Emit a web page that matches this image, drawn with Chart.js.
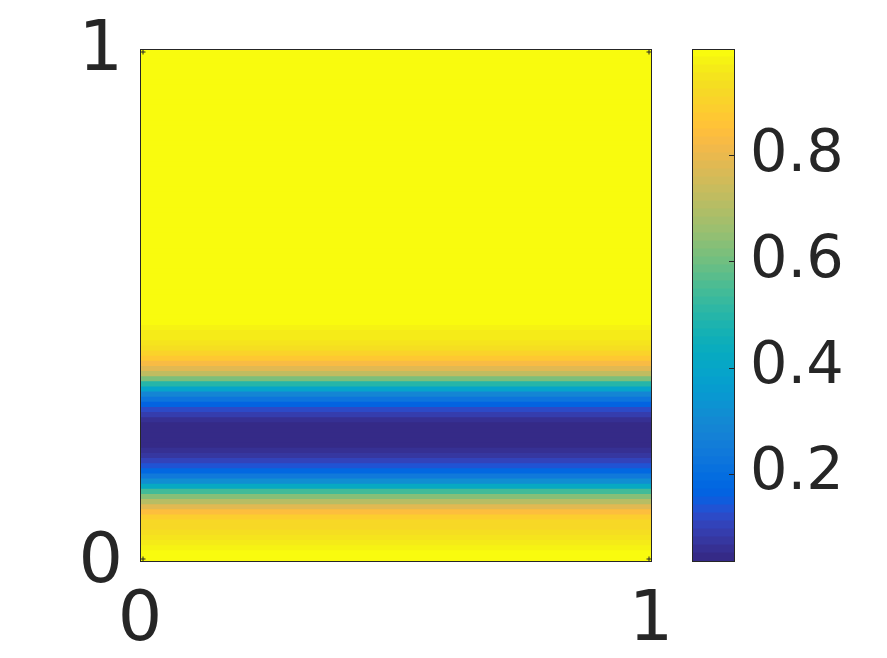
<!DOCTYPE html>
<html>
<head>
<meta charset="utf-8">
<script src="https://cdn.jsdelivr.net/npm/chart.js@4.4.1/dist/chart.umd.min.js"></script>
<style>
  html, body { margin: 0; padding: 0; background: #fff; }
  #wrap { position: relative; width: 887px; height: 658px; }
  #wrap canvas { position: absolute; left: 0; top: 0; }
</style>
</head>
<body>
<div id="wrap">
  <canvas id="map" width="887" height="658"></canvas>
  <canvas id="cbar" width="887" height="658"></canvas>
</div>
<script>
// tick values on both axes and the colorbar
const xTicks = [0, 1];
const yTicks = [0, 1];
const colorTicks = [0.2, 0.4, 0.6, 0.8];
const colorLimits = [0.036, 1.0];

// one value per row of the image, from the top row (y = 1) down to the bottom row (y = 0)
const rowValues = [
  0.995, 0.995, 0.995, 0.995, 0.995, 0.995, 0.995, 0.995, 0.995, 0.995,
  0.995, 0.995, 0.995, 0.995, 0.995, 0.995, 0.995, 0.995, 0.995, 0.995,
  0.995, 0.995, 0.995, 0.995, 0.995, 0.995, 0.995, 0.995, 0.995, 0.995,
  0.995, 0.995, 0.995, 0.995, 0.995, 0.995, 0.995, 0.995, 0.995, 0.995,
  0.995, 0.995, 0.995, 0.995, 0.995, 0.995, 0.995, 0.995, 0.995, 0.995,
  0.995, 0.995, 0.995, 0.985, 0.975, 0.965, 0.955, 0.945, 0.93, 0.90,
  0.87, 0.82, 0.78, 0.72, 0.62, 0.50, 0.39, 0.28, 0.22, 0.16,
  0.12, 0.09, 0.065, 0.04, 0.04, 0.04, 0.04, 0.045, 0.06, 0.075,
  0.10, 0.13, 0.18, 0.24, 0.31, 0.42, 0.54, 0.63, 0.70, 0.78,
  0.84, 0.88, 0.91, 0.92, 0.93, 0.95, 0.96, 0.98, 0.995, 0.995
];

// parula(64)
const parula = [
  [0.2081,0.1663,0.5292],[0.2116,0.1898,0.5777],[0.2123,0.2138,0.6270],[0.2081,0.2386,0.6771],
  [0.1959,0.2645,0.7279],[0.1707,0.2919,0.7792],[0.1253,0.3242,0.8303],[0.0591,0.3598,0.8683],
  [0.0117,0.3875,0.8820],[0.0060,0.4086,0.8828],[0.0165,0.4266,0.8786],[0.0329,0.4430,0.8720],
  [0.0498,0.4586,0.8641],[0.0629,0.4737,0.8554],[0.0723,0.4887,0.8467],[0.0779,0.5040,0.8384],
  [0.0793,0.5200,0.8312],[0.0749,0.5375,0.8263],[0.0641,0.5570,0.8240],[0.0488,0.5772,0.8228],
  [0.0343,0.5966,0.8199],[0.0265,0.6137,0.8135],[0.0239,0.6287,0.8038],[0.0231,0.6418,0.7913],
  [0.0228,0.6535,0.7768],[0.0267,0.6642,0.7607],[0.0384,0.6743,0.7436],[0.0590,0.6838,0.7254],
  [0.0843,0.6928,0.7062],[0.1133,0.7015,0.6859],[0.1453,0.7098,0.6646],[0.1801,0.7177,0.6424],
  [0.2178,0.7250,0.6193],[0.2586,0.7317,0.5954],[0.3022,0.7376,0.5712],[0.3482,0.7424,0.5473],
  [0.3953,0.7459,0.5244],[0.4420,0.7481,0.5033],[0.4871,0.7491,0.4840],[0.5300,0.7491,0.4661],
  [0.5709,0.7485,0.4494],[0.6099,0.7473,0.4337],[0.6473,0.7456,0.4188],[0.6834,0.7435,0.4044],
  [0.7184,0.7411,0.3905],[0.7525,0.7384,0.3768],[0.7858,0.7356,0.3633],[0.8185,0.7327,0.3498],
  [0.8507,0.7299,0.3360],[0.8824,0.7274,0.3217],[0.9139,0.7258,0.3063],[0.9450,0.7261,0.2886],
  [0.9739,0.7314,0.2666],[0.9938,0.7455,0.2403],[0.9990,0.7653,0.2164],[0.9955,0.7861,0.1967],
  [0.9880,0.8066,0.1794],[0.9789,0.8271,0.1633],[0.9697,0.8481,0.1475],[0.9626,0.8705,0.1309],
  [0.9589,0.8949,0.1132],[0.9598,0.9218,0.0948],[0.9661,0.9514,0.0755],[0.9763,0.9831,0.0538]
];

const textColor = '#262626';
const fontFamily = "'DejaVu Sans', sans-serif";

function rgb(c) {
  return `rgb(${Math.round(c[0] * 255)},${Math.round(c[1] * 255)},${Math.round(c[2] * 255)})`;
}

// map a value to its parula bin, like MATLAB's scaled colormap
function valueColor(v) {
  const [lo, hi] = colorLimits;
  let idx = Math.floor((v - lo) / (hi - lo) * parula.length);
  idx = Math.max(0, Math.min(parula.length - 1, idx));
  return rgb(parula[idx]);
}

// keep tick labels from pushing the plot area around
function noScalePadding(s) {
  s.paddingTop = 0;
  s.paddingBottom = 0;
  s.paddingLeft = 0;
  s.paddingRight = 0;
}

// draws the dark frame round the plot area, plus the tick marks inside it
function framePlugin(id, drawMarks) {
  return {
    id: id,
    afterDraw(chart) {
      const { ctx, chartArea: a } = chart;
      ctx.save();
      ctx.strokeStyle = textColor;
      ctx.lineWidth = 1;
      ctx.strokeRect(a.left + 0.5, a.top + 0.5, a.right - a.left, a.bottom - a.top);
      ctx.beginPath();
      drawMarks(chart, ctx, a);
      ctx.stroke();
      ctx.restore();
    }
  };
}

// ---- heat map ----
const heatData = rowValues.map((v, i) => ({ y: 1 - (i + 0.5) / rowValues.length, x: [0, 1] }));

new Chart(document.getElementById('map'), {
  type: 'bar',
  data: {
    datasets: [{
      data: heatData,
      backgroundColor: rowValues.map(valueColor),
      borderWidth: 0,
      barPercentage: 1,
      categoryPercentage: 1,
      inflateAmount: 0.5
    }]
  },
  options: {
    indexAxis: 'y',
    responsive: false,
    animation: false,
    devicePixelRatio: 1,
    layout: { padding: { top: 49, right: 236, left: 0, bottom: 0 } },
    plugins: { legend: { display: false }, tooltip: { enabled: false } },
    scales: {
      x: {
        type: 'linear', min: 0, max: 1,
        afterBuildTicks: s => { s.ticks = xTicks.map(v => ({ value: v })); },
        afterFit: s => { s.height = 97; noScalePadding(s); },
        grid: { display: false, drawTicks: false },
        border: { display: false },
        ticks: { font: { family: fontFamily, size: 70 }, color: textColor, padding: 19, maxRotation: 0, autoSkip: false }
      },
      y: {
        type: 'linear', min: 0, max: 1, offset: false,
        afterBuildTicks: s => { s.ticks = yTicks.map(v => ({ value: v })); },
        afterFit: s => { s.width = 140; noScalePadding(s); },
        grid: { display: false, drawTicks: false, offset: false },
        border: { display: false },
        ticks: { font: { family: fontFamily, size: 70 }, color: textColor, padding: 17, labelOffset: 3, autoSkip: false }
      }
    }
  },
  plugins: [framePlugin('mapFrame', (chart, ctx, a) => {
    // small "+" marks at the tick positions in the corners
    const xs = chart.scales.x, ys = chart.scales.y;
    xTicks.forEach(xv => {
      yTicks.forEach(yv => {
        const cx = Math.round(xs.getPixelForValue(xv));
        const cy = Math.round(ys.getPixelForValue(yv));
        const dx = xv === xTicks[0] ? 1 : -1;
        const dy = yv === yTicks[0] ? -1 : 1;
        ctx.moveTo(cx + 0.5, cy + 2.5 * dy + 0.5);
        ctx.lineTo(cx + 5 * dx + 0.5, cy + 2.5 * dy + 0.5);
        ctx.moveTo(cx + 2.5 * dx + 0.5, cy + 0.5);
        ctx.lineTo(cx + 2.5 * dx + 0.5, cy + 5 * dy + 0.5);
      });
    });
  })]
});

// ---- colorbar ----
const binWidth = (colorLimits[1] - colorLimits[0]) / parula.length;

new Chart(document.getElementById('cbar'), {
  type: 'bar',
  data: {
    labels: [''],
    datasets: parula.map((c, i) => ({
      data: [[colorLimits[0] + i * binWidth, colorLimits[0] + (i + 1) * binWidth]],
      backgroundColor: rgb(c),
      borderWidth: 0,
      grouped: false,
      barPercentage: 1,
      categoryPercentage: 1,
      inflateAmount: 0.5
    }))
  },
  options: {
    responsive: false,
    animation: false,
    devicePixelRatio: 1,
    layout: { padding: { top: 49, right: 0, left: 692, bottom: 97 } },
    plugins: { legend: { display: false }, tooltip: { enabled: false } },
    scales: {
      x: { display: false },
      y: {
        position: 'right',
        min: colorLimits[0], max: colorLimits[1],
        afterBuildTicks: s => { s.ticks = colorTicks.map(v => ({ value: v })); },
        afterFit: s => { s.width = 153; noScalePadding(s); },
        grid: { display: false, drawTicks: false },
        border: { display: false },
        ticks: { font: { family: fontFamily, size: 59 }, color: textColor, padding: 16, autoSkip: false, callback: v => String(v) }
      }
    }
  },
  plugins: [framePlugin('cbarFrame', (chart, ctx, a) => {
    const ys = chart.scales.y;
    colorTicks.forEach(v => {
      const py = Math.round(ys.getPixelForValue(v)) + 0.5;
      ctx.moveTo(a.right, py);
      ctx.lineTo(a.right - 5, py);
    });
  })]
});
</script>
</body>
</html>
